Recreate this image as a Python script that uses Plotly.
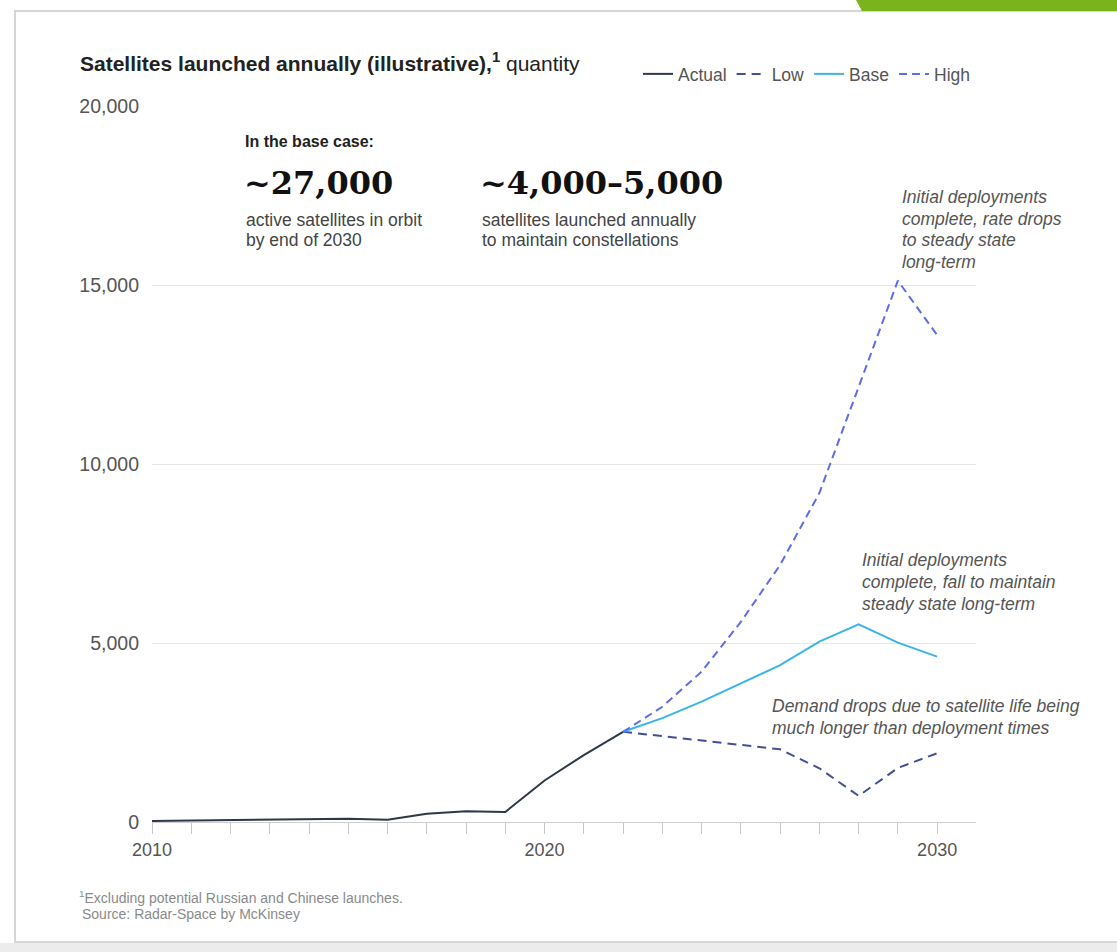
import plotly.graph_objects as go

# ---------------- data ----------------
years_actual = [2010, 2011, 2012, 2013, 2014, 2015, 2016, 2017, 2018, 2019, 2020, 2021, 2022]
actual = [30, 40, 40, 55, 75, 90, 65, 230, 300, 280, 1160, 1870, 2520]

years_proj = [2022, 2023, 2024, 2025, 2026, 2027, 2028, 2029, 2030]
low = [2520, 2400, 2280, 2150, 2030, 1500, 730, 1510, 1920]
base = [2520, 2900, 3360, 3880, 4380, 5040, 5520, 5010, 4620]
high = [2520, 3220, 4200, 5590, 7180, 9190, 12150, 15120, 13600]

x_tickvals = [2010, 2020, 2030]
x_ticklabels = ["2010", "2020", "2030"]
y_ticks = [0, 5000, 10000, 15000, 20000]
y_ticklabels = ["0", "5,000", "10,000", "15,000", "20,000"]

# ---------------- layout geometry ----------------
W, H = 1117, 952
L, R, T, B = 152, 1117 - 976, 106, 952 - 822
PW, PH = W - L - R, H - T - B

def px(x):
    return (x - L) / PW

def py(y):
    return (H - B - y) / PH

SANS = "Liberation Sans, Arial, sans-serif"
SERIF = "DejaVu Serif, serif"

fig = go.Figure()
fig.add_trace(go.Scatter(x=years_actual, y=actual, name="Actual", mode="lines",
                         line=dict(color="#2e3848", width=2)))
fig.add_trace(go.Scatter(x=years_proj, y=low, name="Low", mode="lines",
                         line=dict(color="#414f96", width=2, dash="9px,6px")))
fig.add_trace(go.Scatter(x=years_proj, y=base, name="Base", mode="lines",
                         line=dict(color="#3bb5e8", width=2)))
fig.add_trace(go.Scatter(x=years_proj, y=high, name="High", mode="lines",
                         line=dict(color="#5b6ee6", width=2, dash="8px,5px")))

annotations = []

def text(x, y, s, size=17, color="#444", family=SANS, xanchor="left"):
    annotations.append(dict(xref="paper", yref="paper", x=px(x), y=py(y), text=s,
                            showarrow=False, xanchor=xanchor, yanchor="middle",
                            font=dict(size=size, color=color, family=family)))

# title
text(78, 62, "<b>Satellites launched annually (illustrative),</b><sup><b>1</b></sup> quantity",
     size=21, color="#222")

# base case callout
text(243, 141, "<b>In the base case:</b>", size=16, color="#222")
text(242, 183, "<b>~27,000</b>", size=32, color="#111", family=SERIF)
text(244, 220, "active satellites in orbit", size=17.5)
text(244, 240, "by end of 2030", size=17.5)
text(478, 183, "<b>~4,000–5,000</b>", size=32, color="#111", family=SERIF)
text(480, 220, "satellites launched annually", size=17.5)
text(480, 240, "to maintain constellations", size=17.5)

# scenario notes
for i, s in enumerate(["Initial deployments", "complete, rate drops", "to steady state", "long-term"]):
    text(900, 197 + i * 21.7, "<i>" + s + "</i>", size=17.5, color="#555")
for i, s in enumerate(["Initial deployments", "complete, fall to maintain", "steady state long-term"]):
    text(860, 560 + i * 22, "<i>" + s + "</i>", size=17.5, color="#555")
for i, s in enumerate(["Demand drops due to satellite life being", "much longer than deployment times"]):
    text(770, 706 + i * 22, "<i>" + s + "</i>", size=17.5, color="#555")

# footnote
text(77, 897, "<sup>1</sup>Excluding potential Russian and Chinese launches.", size=14, color="#8a8a8a")
text(80, 914, "Source: Radar-Space by McKinsey", size=14, color="#8a8a8a")

shapes = [
    # card frame
    dict(type="rect", xref="paper", yref="paper", x0=px(15), x1=px(1130), y0=py(11), y1=py(942),
         line=dict(color="#d6d6d6", width=2), fillcolor="rgba(0,0,0,0)", layer="below"),
    dict(type="rect", xref="paper", yref="paper", x0=px(0), x1=px(1117), y0=py(943), y1=py(952),
         line=dict(width=0), fillcolor="#ececec", layer="below"),
    dict(type="path", xref="paper", yref="paper",
         path="M {} {} L {} {} L {} {} L {} {} Z".format(px(856), py(0), px(1117), py(0),
                                                       px(1117), py(11), px(862), py(11)),
         line=dict(width=0), fillcolor="#79b41e", layer="below"),
]

fig.update_layout(
    width=W, height=H,
    margin=dict(l=L, r=R, t=T, b=B, pad=0),
    paper_bgcolor="white", plot_bgcolor="white",
    font=dict(family=SANS, color="#555"),
    showlegend=True,
    legend=dict(orientation="h", x=px(638), y=py(74), xanchor="left", yanchor="middle",
                font=dict(size=17.5, color="#555", family=SANS), itemwidth=30,
                bgcolor="rgba(0,0,0,0)"),
    annotations=annotations,
    shapes=shapes,
    xaxis=dict(range=[2010, 2030.99], tickmode="array", tickvals=x_tickvals, ticktext=x_ticklabels,
               ticks="outside", ticklen=11, tickcolor="#c8c8c8", tickwidth=1,
               minor=dict(ticks="outside", ticklen=11, tickcolor="#c8c8c8", tickwidth=1,
                          tick0=2010, dtick=1, showgrid=False),
               showgrid=False, zeroline=False, showline=True, linecolor="#cfcfcf", linewidth=1,
               tickfont=dict(size=18, color="#555"), fixedrange=True),
    yaxis=dict(range=[0, 20000], tickmode="array", tickvals=y_ticks, ticktext=y_ticklabels,
               ticks="", showgrid=True, gridcolor="#e6e6e6", gridwidth=1, zeroline=False,
               showline=False, tickfont=dict(size=19.5, color="#555"), ticklabelstandoff=12,
               fixedrange=True),
)

fig.write_html("out.html")
